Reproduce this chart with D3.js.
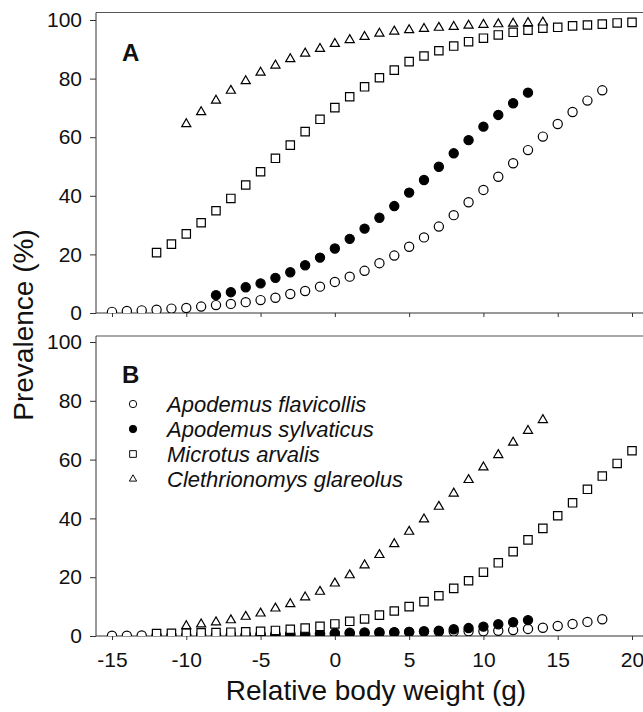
<!DOCTYPE html>
<html>
<head>
<meta charset="utf-8">
<script src="https://cdn.jsdelivr.net/npm/d3@7"></script>
<style>
  body { margin: 0; background: #fff; }
  text { font-family: "Liberation Sans", Arial, sans-serif; fill: #111; }
</style>
</head>
<body>
<script>
// prevalence vs relative body weight, two panels

var width = 643,
    height = 712;

var species = ['Apodemus flavicollis', 'Apodemus sylvaticus', 'Microtus arvalis', 'Clethrionomys glareolus'];
var xTicks = [-15, -10, -5, 0, 5, 10, 15, 20];
var yTicks = [0, 20, 40, 60, 80, 100];

// first x (g) of each series, same in both panels
var startA = [-15, -8, -12, -10];
var startB = [-15, -8, -12, -10];

// panel A
var flavicollisA = [0.4, 0.7, 0.9, 1.1, 1.5, 1.7, 2.2, 2.7, 3.1, 3.7, 4.4, 5.2, 6.5, 7.5, 9.0, 10.6, 12.4, 14.4, 17.0, 19.6, 22.6, 25.8, 29.5, 33.4, 37.8, 42.0, 46.5, 51.1, 55.6, 60.2, 64.5, 68.6, 72.5, 76.0];
var sylvaticusA = [6.1, 7.1, 8.8, 10.1, 12.0, 13.9, 16.3, 18.9, 22.0, 25.3, 28.8, 32.5, 36.5, 41.1, 45.4, 49.9, 54.5, 59.0, 63.6, 67.6, 71.6, 75.2];
var arvalisA = [20.6, 23.5, 27.0, 30.8, 34.9, 39.1, 43.7, 48.2, 52.8, 57.3, 61.9, 66.1, 70.1, 73.8, 77.2, 80.3, 82.9, 85.8, 87.7, 89.5, 91.1, 92.6, 93.8, 94.9, 95.8, 96.5, 97.2, 97.5, 98.0, 98.3, 98.6, 99.0, 99.2];
var glareolusA = [64.5, 68.6, 72.5, 75.9, 79.2, 82.1, 84.5, 86.7, 88.6, 90.2, 91.9, 93.2, 94.3, 95.4, 96.1, 96.6, 97.0, 97.4, 97.7, 98.1, 98.4, 98.6, 98.8, 99.0, 99.2];

// panel B
var flavicollisB = [0.1, 0.1, 0.2, 0.2, 0.3, 0.3, 0.4, 0.4, 0.5, 0.5, 0.6, 0.7, 0.7, 0.8, 0.9, 1.0, 1.1, 1.2, 1.3, 1.3, 1.4, 1.5, 1.5, 1.5, 1.6, 1.6, 1.8, 2.0, 2.4, 2.8, 3.4, 4.1, 4.8, 5.7];
var sylvaticusB = [0.2, 0.2, 0.3, 0.3, 0.4, 0.5, 0.6, 0.7, 0.8, 0.9, 1.0, 1.1, 1.2, 1.4, 1.6, 1.8, 2.3, 2.7, 3.2, 4.0, 4.7, 5.4];
var arvalisB = [0.8, 0.9, 1.0, 1.1, 1.2, 1.3, 1.4, 1.6, 1.9, 2.3, 2.7, 3.3, 4.1, 5.0, 5.8, 7.1, 8.5, 10.0, 11.7, 13.7, 16.2, 18.8, 21.7, 24.9, 28.7, 32.7, 36.6, 40.9, 45.3, 49.9, 54.4, 58.7, 63.0];
var glareolusB = [3.4, 4.0, 4.7, 5.4, 6.6, 7.7, 9.4, 10.9, 13.2, 15.1, 17.9, 20.7, 24.1, 27.6, 31.3, 35.5, 39.7, 44.0, 48.5, 53.1, 57.4, 61.6, 65.8, 69.8, 73.5];

var svg = d3.select('body').append('svg')
    .attr('width', width)
    .attr('height', height);

var x = d3.scaleLinear().domain([-15, 20]).range([112, 632]);

var frameLeft = 96,
    frameRight = 660;

var panels = [
  {id: 'A', top: 20, bottom: 313, frameTop: 12.5, start: startA, series: [flavicollisA, sylvaticusA, arvalisA, glareolusA]},
  {id: 'B', top: 342, bottom: 636, frameTop: 336, start: startB, series: [flavicollisB, sylvaticusB, arvalisB, glareolusB]}
];

// marker drawing, open ones are white filled
var triangle = d3.symbol().type(d3.symbolTriangle).size(36);
var square = d3.symbol().type(d3.symbolSquare).size(70);

var drawMarker = function(sel, kind) {
  if (kind === 0 || kind === 1) {
    sel.append('circle')
      .attr('r', 4.6)
      .attr('fill', kind === 1 ? '#000' : '#fff')
      .attr('stroke', '#000')
      .attr('stroke-width', 1.2);
  } else {
    sel.append('path')
      .attr('d', kind === 2 ? square() : triangle())
      .attr('fill', '#fff')
      .attr('stroke', '#000')
      .attr('stroke-width', 1.2);
  }
};

// plain hyphen for negatives, like the original
var plain = function(d) { return String(d); };

panels.forEach(function(p, pi) {
  var y = d3.scaleLinear().domain([0, 100]).range([p.bottom, p.top]);
  var g = svg.append('g');

  svg.append('defs').append('clipPath')
      .attr('id', 'clip' + p.id)
    .append('rect')
      .attr('x', frameLeft)
      .attr('y', p.frameTop)
      .attr('width', frameRight - frameLeft)
      .attr('height', p.bottom - p.frameTop);

  // frame top line
  g.append('line')
      .attr('x1', frameLeft).attr('x2', frameRight)
      .attr('y1', p.frameTop).attr('y2', p.frameTop)
      .attr('stroke', '#555').attr('stroke-width', 1.2);

  var yAxis = g.append('g')
      .attr('transform', 'translate(' + frameLeft + ',0)')
      .call(d3.axisLeft(y).tickValues(yTicks).tickFormat(plain).tickSize(6).tickPadding(8));
  yAxis.select('.domain').attr('d', 'M0,' + p.bottom + 'V' + p.frameTop);
  yAxis.selectAll('line, path').attr('stroke', '#333');
  yAxis.selectAll('text').style('font-size', '21px');

  var xAxis = g.append('g')
      .attr('transform', 'translate(0,' + p.bottom + ')')
      .call(d3.axisBottom(x).tickValues(xTicks).tickFormat(plain).tickSize(4).tickPadding(12));
  xAxis.select('.domain').attr('d', 'M' + frameLeft + ',0H' + frameRight);
  xAxis.selectAll('line, path').attr('stroke', '#333');
  xAxis.selectAll('text').style('font-size', '21px');
  if (pi === 0) xAxis.selectAll('text').remove();

  g.append('text')
      .attr('x', 122)
      .attr('y', p.top + 41)
      .style('font-size', '24px')
      .style('font-weight', 'bold')
      .text(p.id);

  var marks = g.append('g').attr('clip-path', 'url(#clip' + p.id + ')');
  p.series.forEach(function(vals, si) {
    var pts = vals.map(function(v, i) { return {w: p.start[si] + i, v: v}; });
    marks.append('g').selectAll('g')
        .data(pts)
      .enter().append('g')
        .attr('transform', function(d) { return 'translate(' + x(d.w) + ',' + y(d.v) + ')'; })
        .each(function() { drawMarker(d3.select(this), si); });
  });
});

// legend in panel B
var legend = svg.append('g').selectAll('g')
    .data(species)
  .enter().append('g')
    .attr('transform', function(d, i) { return 'translate(133,' + (404 + i * 25) + ')'; });

legend.each(function(d, i) {
  var s = d3.select(this).append('g').attr('transform', 'scale(0.8)');
  drawMarker(s, i);
});

legend.append('text')
    .attr('x', 34)
    .attr('y', 7.5)
    .style('font-size', '22px')
    .style('font-style', 'italic')
    .text(function(d) { return d; });

// axis titles
svg.append('text')
    .attr('x', 376)
    .attr('y', 700)
    .attr('text-anchor', 'middle')
    .style('font-size', '28px')
    .text('Relative body weight (g)');

svg.append('text')
    .attr('transform', 'translate(33,325) rotate(-90)')
    .attr('text-anchor', 'middle')
    .style('font-size', '28px')
    .text('Prevalence (%)');
</script>
</body>
</html>
